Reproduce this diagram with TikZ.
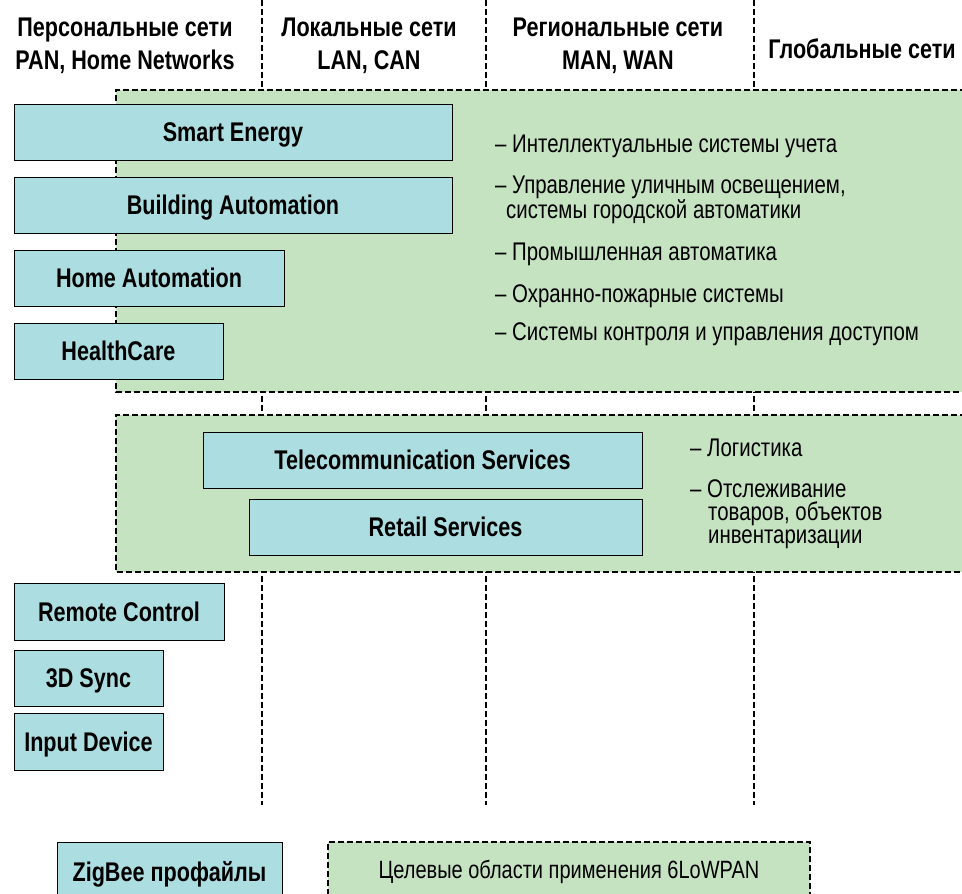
\documentclass[tikz,border=0pt]{standalone}
\usepackage{fontspec}
\setmainfont{Liberation Sans}[FakeStretch=0.8]
\definecolor{profileColor}{RGB}{172, 221, 224}
\definecolor{areaColor}{RGB}{197, 226, 193}
\usepackage{tikz}

\begin{document}
\begin{tikzpicture}[x=1pt, y=-1pt,
    profile/.style={draw=black, line width=1pt, fill=profileColor, inner sep=0pt, text height=19.3pt, text depth=0pt, font=\fontsize{27}{30}\selectfont\bfseries},
    header/.style={align=center, inner sep=0pt, font=\fontsize{27}{33}\selectfont\bfseries},
    item/.style={anchor=west, align=left, inner sep=0pt, font=\fontsize{25.5}{23}\selectfont},
    gridline/.style={line width=2pt, dash pattern=on 6pt off 3pt},
    area/.style={draw=black, line width=2pt, dash pattern=on 6pt off 3pt, fill=areaColor}
]
    \useasboundingbox (0,0) rectangle (962,894);
    \clip (0,0) rectangle (962,894);

    % network classes
    \foreach \x in {262,486,754}
        \draw[gridline] (\x,0) -- (\x,805);
    \node[header] (hpan) at (125,46) {Персональные сети\\PAN, Home Networks};
    \node[header] (hlan) at (369,46) {Локальные сети\\LAN, CAN};
    \node[header] (hman) at (618,46) {Региональные сети\\MAN, WAN};
    \node[header] (hglob) at (862,49) {Глобальные сети};

    % 6LoWPAN areas
    \draw[area] (975,90) -- (116,90) -- (116,392) -- (975,392);
    \draw[area] (975,415) -- (116,415) -- (116,572) -- (975,572);

    % ZigBee profiles
    \node[profile, minimum width=438, minimum height=56] (smart) at (233,132) {Smart Energy};
    \node[profile, minimum width=438, minimum height=56] (building) at (233,205) {Building Automation};
    \node[profile, minimum width=270, minimum height=56] (home) at (149,278) {Home Automation};
    \node[profile, minimum width=209, minimum height=56] (health) at (118.5,351) {HealthCare};
    \node[profile, minimum width=439, minimum height=56] (telecom) at (422.5,460) {Telecommunication Services};
    \node[profile, minimum width=393, minimum height=56] (retail) at (445.5,527) {Retail Services};
    \node[profile, minimum width=210, minimum height=57] (remote) at (119,611.5) {Remote Control};
    \node[profile, minimum width=149, minimum height=56] (sync) at (88.5,678) {3D Sync};
    \node[profile, minimum width=149, minimum height=57] (input) at (88.5,741.5) {Input Device};

    \node[item] (smartA) at (495,146) {– Интеллектуальные системы учета};
    \node[item] (smartB) at (495,199.5) {– Управление уличным освещением,\\\hspace{11pt}системы городской автоматики};
    \node[item] (smartC) at (495,254) {– Промышленная автоматика};
    \node[item] (smartD) at (495,296) {– Охранно-пожарные системы};
    \node[item] (smartE) at (495,334) {– Системы контроля и управления доступом};
    \node[item] (retailA) at (690,448) {– Логистика};
    \node[item] (retailB) at (690,514) {– Отслеживание\\\hspace{18pt}товаров, объектов\\\hspace{18pt}инвентаризации};

    % legend
    \node[profile, minimum width=225, minimum height=60] (zigbee) at (169.5,872) {ZigBee профайлы};
    \node[area, minimum width=482, minimum height=60, inner sep=0pt, font=\fontsize{25}{25}\selectfont] (lowpan) at (569,872) {Целевые области применения 6LoWPAN};
\end{tikzpicture}
\end{document}
